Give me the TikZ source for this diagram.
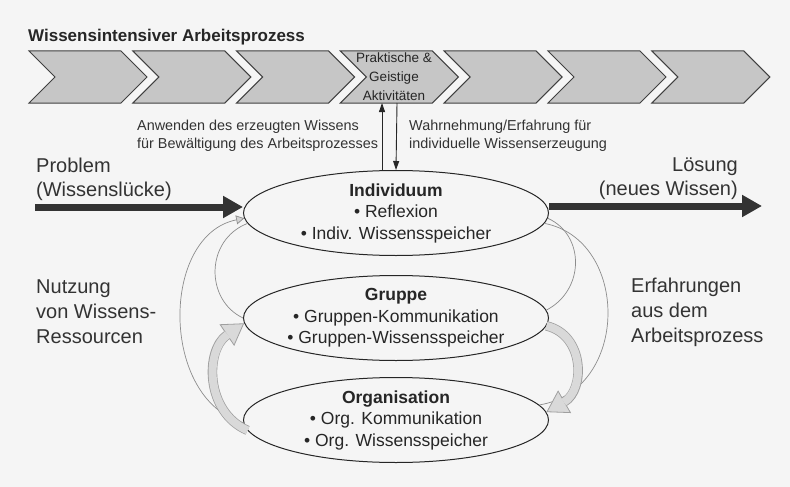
\documentclass[tikz,border=0pt]{standalone}
\usepackage{fontspec}
\setmainfont{Liberation Sans}
\usetikzlibrary{arrows.meta,shapes.geometric,positioning}

\tikzset{
    chevronBox/.style={fill=gray!45,draw=black!75,line width=1pt},
    layer/.style={ellipse,draw=black!85,line width=1pt,minimum width=305pt,minimum height=85pt,inner sep=0pt},
    layerText/.style={align=center,text=black!85,font=\fontsize{17.5}{21.5}\selectfont},
    smallText/.style={align=left,text=black!80,font=\fontsize{14.4}{18}\selectfont,inner sep=0pt},
    bigText/.style={text=black!80,font=\fontsize{20}{24}\selectfont,inner sep=0pt},
    bigArrow/.style={line width=7pt,draw=black!80,-{Triangle[width=21pt,length=20pt]}},
    thinArrow/.style={line width=0.9pt,draw=black!85,-{Triangle[width=6pt,length=9pt]}},
    flowLine/.style={line width=0.7pt,draw=gray!90},
    wideArrow/.style={line width=9.5pt,draw=gray!75,
        -{Triangle[width=26pt,length=21pt,fill=gray!30,line width=0.8pt]},
        postaction={draw=gray!30,line width=8pt,-,shorten >=20pt}},
}

\begin{document}
\begin{tikzpicture}[x=1pt,y=-1pt]

\useasboundingbox (0,0) rectangle (790,487);
\fill[black!4] (0,0) rectangle (790,487);

% Prozesskette
\node[anchor=base west,inner sep=0pt,text=black!85,font=\fontsize{17}{20}\selectfont\bfseries] (tTitel) at (28,42) {Wissensintensiver Arbeitsprozess};
\foreach \v in {0,...,6}
{
    \draw[chevronBox] ({29+103.8*\v},51) -- ++(92,0) -- ++(26,26) -- ++(-26,26) -- ++(-92,0) -- ++(26,-26) -- cycle;
};
\node[align=center,inner sep=0pt,text=black!85,font=\fontsize{13.5}{19}\selectfont] (nAktiv) at (394,77) {Praktische \&\\Geistige\\Aktivitäten};

% Ebenen
\foreach \n/\y/\t in
{nInd/213/{\textbf{Individuum}\\• Reflexion\\• Indiv. Wissensspeicher},
    nGrp/318/{\textbf{Gruppe}\\• Gruppen-Kommunikation\\• Gruppen-Wissensspeicher},
    nOrg/420/{\textbf{Organisation}\\• Org. Kommunikation\\• Org. Wissensspeicher}}
{
    \node[layer,label={[layerText]center:{\t}}] (\n) at (396,\y) {};
};

\coordinate (cUpPt) at (382,103);
\coordinate (cDownPt) at (397,103);
\coordinate (cProbPt) at (35,207);
\coordinate (cLoesPt) at (762,206);

\draw[thinArrow] (nInd.north -| cUpPt) -- (cUpPt);
\draw[thinArrow] (cDownPt) -- (nInd.north);
\draw[bigArrow] (cProbPt) -- (nInd.west |- cProbPt);
\draw[bigArrow] (nInd.east |- cLoesPt) -- (cLoesPt);

\node[smallText,anchor=west] (tAnwenden) at (137,136) {Anwenden des erzeugten Wissens\\für Bewältigung des Arbeitsprozesses};
\node[smallText,anchor=west] (tWahrnehmung) at (409,136) {Wahrnehmung/Erfahrung für\\individuelle Wissenserzeugung};
\node[bigText,align=left,anchor=west] (tProblem) at (36,179) {Problem\\(Wissenslücke)};
\node[bigText,align=right,anchor=east] (tLoesung) at (738,179) {Lösung\\(neues Wissen)};
\node[bigText,align=left,anchor=west,font=\fontsize{20}{25}\selectfont] (tNutzung) at (36,312) {Nutzung\\von Wissens-\\Ressourcen};
\node[bigText,align=left,anchor=west,font=\fontsize{20}{25}\selectfont] (tErfahrung) at (631,312) {Erfahrungen\\aus dem\\Arbeitsprozess};

% Rueckkopplung links
\draw[flowLine,-{Triangle[width=9pt,length=8pt,fill=gray!35]}] (nOrg.181) .. controls (160,400) and (160,235) .. (nInd.182);
\draw[flowLine] (nGrp.180) .. controls (205,300) and (205,240) .. (nInd.184);
\draw[wideArrow] (nOrg.184) .. controls (205,412) and (205,350) .. (nGrp.182);

% Rueckkopplung rechts
\draw[flowLine] (nInd.358) .. controls (585,235) and (585,290) .. (nGrp.3);
\draw[flowLine] (nInd.356) .. controls (630,240) and (630,390) .. (nOrg.6);
\draw[wideArrow] (nGrp.357) .. controls (585,335) and (585,390) .. (nOrg.3);

\end{tikzpicture}
\end{document}
